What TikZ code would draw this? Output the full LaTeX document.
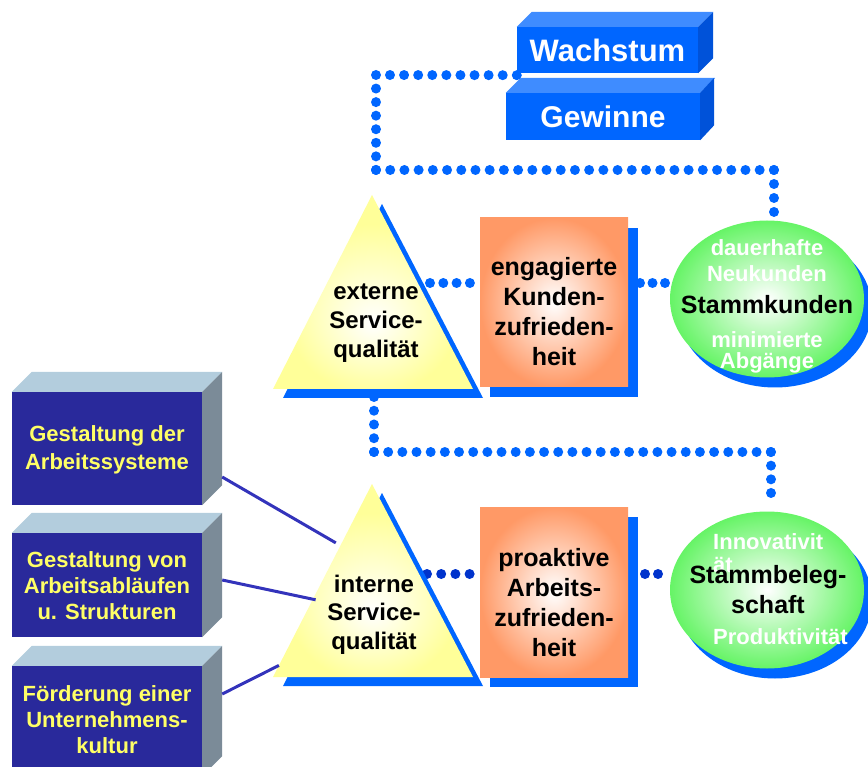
\documentclass[tikz,border=0pt]{standalone}
\usepackage{fontspec}
\setmainfont{Liberation Sans}
\usetikzlibrary{calc,shapes.geometric,shadows}
\definecolor{boxblue}{HTML}{0066FF}
\definecolor{boxtop}{HTML}{3F8CFF}
\definecolor{boxside}{HTML}{0052D9}
\definecolor{dotblue}{HTML}{0066FF}
\definecolor{dotdark}{HTML}{0033CC}
\definecolor{triyellow}{HTML}{FFFF99}
\definecolor{salmon}{HTML}{FF9966}
\definecolor{grn}{HTML}{66F466}
\definecolor{navy}{HTML}{29299B}
\definecolor{navytop}{HTML}{B3CDDD}
\definecolor{navyside}{HTML}{7B8B98}
\definecolor{txtyellow}{HTML}{FFFF66}
\definecolor{linkblue}{HTML}{3333BB}
\pgfdeclarelayer{bg}
\pgfsetlayers{bg,main}
\pgfdeclareradialshading{triglow}{\pgfpoint{0bp}{-8bp}}{color(0bp)=(white); color(22bp)=(triyellow); color(50bp)=(triyellow)}
\tikzset{
  dotline/.style={line width=10pt, line cap=round, draw=dotblue, dash pattern=on 0pt off #1},
  dotdarkline/.style={line width=10pt, line cap=round, draw=dotdark, dash pattern=on 0pt off #1},
  frontbox/.style={fill=boxblue, inner sep=0pt, text=white, font=\bfseries\fontsize{31}{31}\selectfont},
  topface/.style={fill=boxtop},
  sideface/.style={fill=boxside},
  block/.style={fill=navy, inner sep=0pt, minimum width=190pt},
  blocktop/.style={fill=navytop},
  blockside/.style={fill=navyside},
  blocktxt/.style={anchor=base, inner sep=0pt, text=txtyellow, font=\bfseries\fontsize{22}{22}\selectfont},
  triline/.style={anchor=base, inner sep=0pt, font=\bfseries\fontsize{24}{24}\selectfont},
  boxline/.style={anchor=base, inner sep=0pt, font=\bfseries\fontsize{25}{25}\selectfont},
  blackline/.style={anchor=base, inner sep=0pt, font=\bfseries\fontsize{25}{25}\selectfont},
  whiteline/.style={anchor=base, inner sep=0pt, text=white, font=\bfseries\fontsize{22}{22}\selectfont},
  orangebox/.style={rectangle, inner sep=0pt, minimum width=148pt, shade, inner color=white, outer color=salmon,
    drop shadow={shadow xshift=10pt, shadow yshift=-10pt, fill=boxblue, opacity=1}},
  greenell/.style={ellipse, inner sep=0pt, minimum width=194pt, minimum height=157pt, shade, inner color=white, outer color=grn,
    drop shadow={shadow xshift=8pt, shadow yshift=-10pt, fill=boxblue, opacity=1}},
  link/.style={draw=linkblue, line width=3pt},
  triangleshadow/.style={fill=boxblue},
}
\begin{document}
\begin{tikzpicture}[x=1pt,y=-1pt]
\useasboundingbox (0,0) rectangle (868,767);

% ---- Wachstum / Gewinne
\node[frontbox, minimum width=181pt, minimum height=46pt] (wach) at (607.5,50) {Wachstum};
\fill[topface] (wach.north west) -- ++(15,-15) -- ([shift={(15,-15)}]wach.north east) -- (wach.north east) -- cycle;
\fill[sideface] (wach.north east) -- ++(15,-15) -- ([shift={(15,-15)}]wach.south east) -- (wach.south east) -- cycle;
\node[frontbox, minimum width=194pt, minimum height=47pt, font=\bfseries\fontsize{30}{30}\selectfont] (gew) at (603,116.5) {Gewinne};
\fill[topface] (gew.north west) -- ++(15,-15) -- ([shift={(15,-15)}]gew.north east) -- (gew.north east) -- cycle;
\fill[sideface] (gew.north east) -- ++(14,-15) -- ([shift={(14,-15)}]gew.south east) -- (gew.south east) -- cycle;

% ---- triangles
\coordinate (eA) at (372,195); \coordinate (eR) at (473,389); \coordinate (eL) at (273,389);
\coordinate (iA) at (372,484); \coordinate (iR) at (473,677); \coordinate (iL) at (273,677);
\fill[triangleshadow] ([shift={(10,9)}]eA) -- ([shift={(10,9)}]eR) -- ([shift={(10,9)}]eL) -- cycle;
\shade[shading=triglow] (eA) -- (eR) -- (eL) -- cycle;
\fill[triangleshadow] ([shift={(10,9)}]iA) -- ([shift={(10,9)}]iR) -- ([shift={(10,9)}]iL) -- cycle;
\shade[shading=triglow] (iA) -- (iR) -- (iL) -- cycle;

\node[triline] (ext1) at (376,300) {externe};
\node[triline] (ext2) at (376,329) {Service-};
\node[triline] (ext3) at (376,358) {qualität};
\node[triline] (int1) at (374,592) {interne};
\node[triline] (int2) at (374,620.5) {Service-};
\node[triline] (int3) at (374,649) {qualität};

% ---- orange boxes
\node[orangebox, minimum height=169pt] (kz) at (554,302.5) {};
\node[boxline] (kz1) at (554,276) {engagierte};
\node[boxline] (kz2) at (554,306) {Kunden-};
\node[boxline] (kz3) at (554,336) {zufrieden-};
\node[boxline] (kz4) at (554,366) {heit};
\node[orangebox, minimum height=170pt] (az) at (554,592) {};
\node[boxline] (az1) at (554,566) {proaktive};
\node[boxline] (az2) at (554,596) {Arbeits-};
\node[boxline] (az3) at (554,626) {zufrieden-};
\node[boxline] (az4) at (554,656) {heit};

% ---- ellipses
\node[greenell] (sk) at (767,299) {};
\node[whiteline] (sk1) at (767,256) {dauerhafte};
\node[whiteline] (sk2) at (767,282) {Neukunden};
\node[whiteline] (sk4) at (767,348) {minimierte};
\node[whiteline] (sk5) at (767,369) {Abgänge};
\node[blackline] (sk3) at (767,314) {Stammkunden};

\node[greenell] (sb) at (767,590) {};
\node[whiteline, anchor=base west] (sb1) at (713,549) {Innovativit};
\node[whiteline, anchor=base west] (sb2) at (713,572) {ät};
\node[whiteline, anchor=base west] (sb5) at (713,644) {Produktivität};
\node[blackline] (sb3) at (768,583) {Stammbeleg-};
\node[blackline] (sb4) at (768,613) {schaft};

% ---- left blocks
\node[block, minimum height=113pt] (blk1) at (107,448.5) {};
\node[block, minimum height=104pt] (blk2) at (107,585) {};
\node[block, minimum height=110pt] (blk3) at (107,721) {};
\foreach \b in {blk1,blk2,blk3}{
  \fill[blocktop] (\b.north west) -- ++(20,-20) -- ([shift={(20,-20)}]\b.north east) -- (\b.north east) -- cycle;
  \fill[blockside] (\b.north east) -- ++(20,-20) -- ([shift={(20,-20)}]\b.south east) -- (\b.south east) -- cycle;
}
\node[blocktxt] (g1) at (107,442) {Gestaltung der};
\node[blocktxt] (g2) at (107,469) {Arbeitssysteme};
\node[blocktxt] (h1) at (107,567) {Gestaltung von};
\node[blocktxt] (h2) at (107,593) {Arbeitsabläufen};
\node[blocktxt] (h3) at (107,619) {u. Strukturen};
\node[blocktxt] (f1) at (107,701) {Förderung einer};
\node[blocktxt] (f2) at (107,727) {Unternehmens-};
\node[blocktxt] (f3) at (107,753) {kultur};

% ---- links from blocks to internal triangle
\coordinate (l1s) at ([shift={(20,28.5)}]blk1.east);
\coordinate (l2s) at ([shift={(20,-5)}]blk2.east);
\coordinate (l3s) at ([shift={(20,-27)}]blk3.east);
\coordinate (l1e) at ($(iA)!0.305!(iL)+(-6,0)$);
\coordinate (l2e) at ($(iA)!0.60!(iL)+(3,0)$);
\coordinate (l3e) at ($(iA)!0.94!(iL)$);
\draw[link] (l1s) -- (l1e);
\draw[link] (l2s) -- (l2e);
\draw[link] (l3s) -- (l3e);

% ---- dotted connectors (behind)
\begin{pgfonlayer}{bg}
  \coordinate (t0) at ([shift={(0,2)}]wach.south west);
  \coordinate (t1) at (376,75);
  \coordinate (t2) at (376,170);
  \coordinate (t3) at (774,170);
  \coordinate (t4) at (774,212);
  \draw[dotline=14.09] (t0) -- (t1);
  \draw[dotline=13.56] (t1) -- (t2);
  \draw[dotline=14.21] (t2) -- (t3);
  \draw[dotline=13.99] (t3) -- (t4);
  \coordinate (b0) at (374,397);
  \coordinate (b1) at (374,452);
  \coordinate (b2) at (771,452);
  \coordinate (b3) at (771,493);
  \draw[dotline=13.74] (b0) -- (b1);
  \draw[dotline=14.17] (b1) -- (b2);
  \draw[dotline=13.66] (b2) -- (b3);
  \coordinate (h1a) at (430,283);
  \coordinate (h1b) at (kz.west |- h1a);
  \draw[dotline=13.3] (h1a) -- (h1b);
  \coordinate (h2a) at (640,283);
  \coordinate (h2b) at (680,283);
  \draw[dotline=12.5] (h2a) -- (h2b);
  \coordinate (h3a) at (427,574);
  \coordinate (h3b) at (az.west |- h3a);
  \draw[dotdarkline=14.2] (h3a) -- (h3b);
  \coordinate (h4a) at (645,574);
  \coordinate (h4b) at (660,574);
  \draw[dotdarkline=13] (h4a) -- (h4b);
\end{pgfonlayer}
\end{tikzpicture}
\end{document}
